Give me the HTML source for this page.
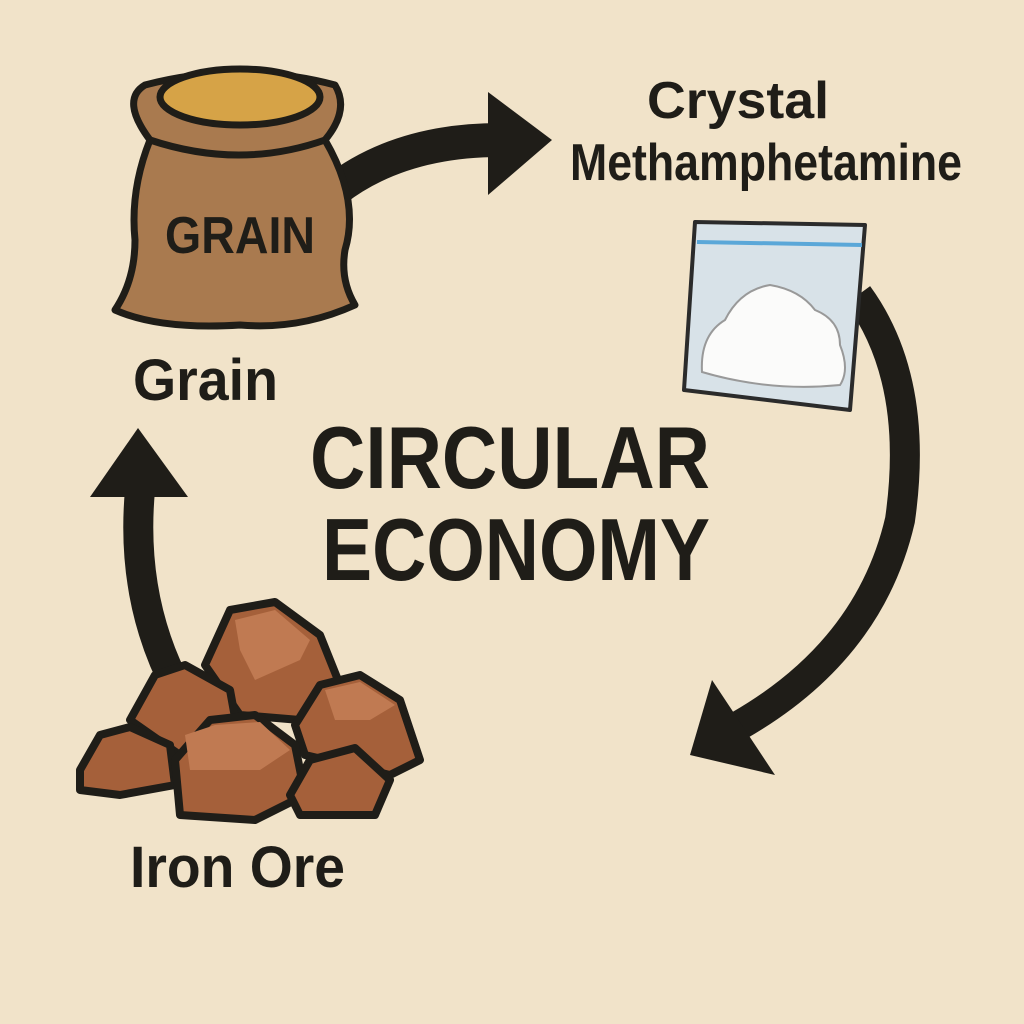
<!DOCTYPE html>
<html><head><style>
html,body{margin:0;padding:0;background:#f1e3c9;}
svg{display:block}
text{font-family:"Liberation Sans Narrow","Liberation Sans",sans-serif;font-weight:bold;fill:#1f1d18}
</style></head><body>
<svg width="1024" height="1024" viewBox="0 0 1024 1024">
<rect width="1024" height="1024" fill="#f1e3c9"/>
<!-- arrows -->
<path d="M335,190 Q400,140 500,140" fill="none" stroke="#1f1d18" stroke-width="34"/>
<polygon points="488,92 552,140 488,195" fill="#1f1d18"/>
<path d="M858,295 Q920,380 900,520 Q870,650 740,725" fill="none" stroke="#1f1d18" stroke-width="30"/>
<polygon points="712,680 690,755 775,775" fill="#1f1d18"/>
<path d="M178,690 Q130,600 140,490" fill="none" stroke="#1f1d18" stroke-width="30"/>
<polygon points="90,497 138,428 188,497" fill="#1f1d18"/>
<!-- sack -->
<g stroke="#1f1d18" stroke-width="7" stroke-linejoin="round">
<path d="M150,140 Q120,100 145,85 Q240,60 335,85 Q350,110 325,140 Q360,200 345,250 Q340,280 355,305 Q300,330 240,325 Q160,330 115,310 Q135,280 135,240 Q130,190 150,140Z" fill="#a97a4f"/>
<ellipse cx="240" cy="97" rx="80" ry="28" fill="#d6a347"/>
<path d="M150,140 Q240,170 325,140" fill="none"/>
</g>
<text x="240" y="253" text-anchor="middle" font-size="52" textLength="150" lengthAdjust="spacingAndGlyphs">GRAIN</text>
<!-- bag -->
<g stroke="#2b2b2b" stroke-width="4" stroke-linejoin="round">
<polygon points="695,222 865,225 850,410 684,390" fill="#d8e2e8"/>
</g>
<line x1="697" y1="242" x2="862" y2="245" stroke="#5aa7d8" stroke-width="4"/>
<path d="M702,372 Q700,335 725,320 Q740,290 770,285 Q800,290 815,310 Q840,320 840,345 Q850,370 840,385 Q770,392 702,372Z" fill="#fbfbfa" stroke="#999" stroke-width="2"/>
<!-- rocks -->
<g stroke="#1f1d18" stroke-width="8" stroke-linejoin="round" fill="#a5603a">
<polygon points="205,665 230,610 275,602 320,635 340,685 300,720 240,715"/>
<polygon points="130,720 155,675 185,665 230,690 240,745 180,755"/>
<polygon points="80,770 100,735 130,727 170,745 175,785 120,795 80,790"/>
<polygon points="295,725 320,685 360,675 400,700 420,760 390,775 305,755"/>
<polygon points="175,760 210,720 255,715 295,745 305,795 255,820 180,815"/>
<polygon points="290,795 310,760 355,748 390,780 375,815 300,815"/>
</g>
<g fill="#c07a52">
<polygon points="235,620 275,610 310,640 300,660 255,680 240,650"/>
<polygon points="185,735 215,725 260,722 290,750 260,770 190,770"/>
<polygon points="325,690 360,682 395,705 370,720 335,720"/>
</g>
<!-- text -->
<text x="738" y="118" text-anchor="middle" font-size="52" textLength="182" lengthAdjust="spacingAndGlyphs">Crystal</text>
<text x="766" y="180" text-anchor="middle" font-size="52" textLength="392" lengthAdjust="spacingAndGlyphs">Methamphetamine</text>
<text x="133" y="400" font-size="58" textLength="145" lengthAdjust="spacingAndGlyphs">Grain</text>
<text x="510" y="488" text-anchor="middle" font-size="88" textLength="400" lengthAdjust="spacingAndGlyphs">CIRCULAR</text>
<text x="516" y="580" text-anchor="middle" font-size="88" textLength="388" lengthAdjust="spacingAndGlyphs">ECONOMY</text>
<text x="130" y="887" font-size="58" textLength="215" lengthAdjust="spacingAndGlyphs">Iron Ore</text>
</svg>
</body></html>
